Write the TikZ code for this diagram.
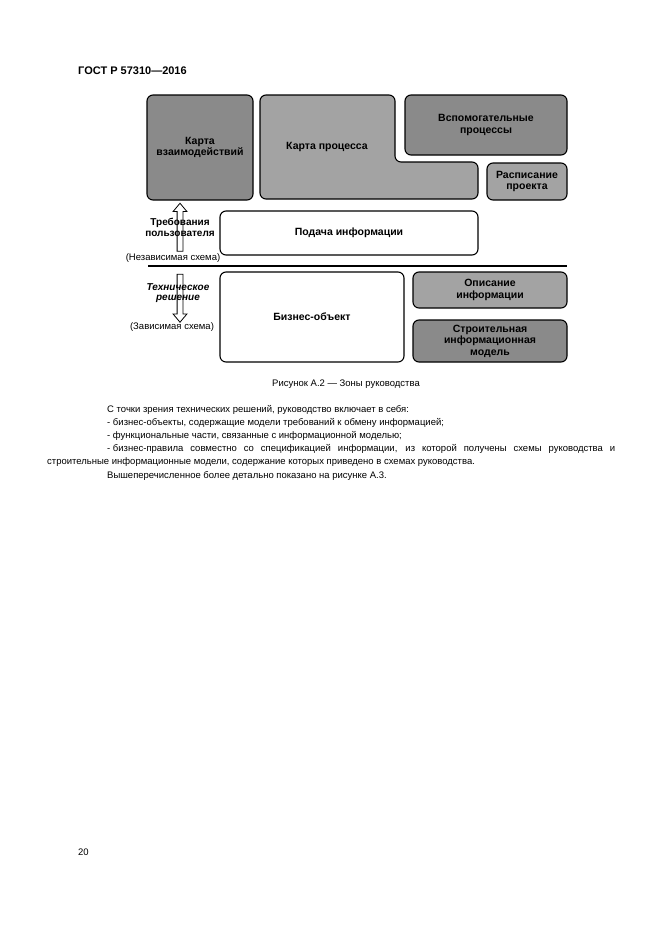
\documentclass[tikz,border=0pt]{standalone}
\usepackage{fontspec}
\setmainfont{Liberation Sans}
\usetikzlibrary{shapes.arrows,positioning}

\begin{document}
\begin{tikzpicture}[
    x=1pt, y=-1pt,
    font=\fontsize{10.5}{11.5}\selectfont\bfseries,
    zone/.style ={rectangle, draw=black, line width=1.1pt,
                  rounded corners=6pt, align=center, inner sep=2pt},
    dzone/.style={zone, fill=black!46},
    lzone/.style={zone, fill=black!36},
    wzone/.style={zone, fill=white},
    hollow/.style={single arrow, draw=black, line width=0.8pt, fill=white,
                  inner xsep=0pt, inner ysep=2.5pt, minimum height=48pt,
                  single arrow head extend=4pt, single arrow tip angle=80},
    side/.style ={align=center, inner sep=0pt,
                  font=\fontsize{10}{11}\selectfont\bfseries},
    scheme/.style={inner sep=0pt, font=\fontsize{9.5}{11}\selectfont},
    body/.style ={anchor=base west, inner sep=0pt,
                  font=\fontsize{9.5}{11}\selectfont}
]
\useasboundingbox[fill=white] (0,0) rectangle (661,935);

%–––– HEADER –––––––––––––––––––––––––––––––––––––––
\node (gost) [body, font=\fontsize{11}{12}\selectfont\bfseries] at (78,74) {ГОСТ Р 57310—2016};

%–––– UPPER ZONES ––––––––––––––––––––––––––––––––––
\node (vzaim) [dzone, minimum width=106pt, minimum height=105pt] at (200,147.5)
      {Карта\\взаимодействий};

\draw[line width=1.1pt, rounded corners=6pt, fill=black!36]
  (260,95) -- (395,95) -- (395,162) -- (478,162) -- (478,199) -- (260,199) -- cycle;
\node (proc) at (327,147) {Карта процесса};

\node (vspom) [dzone, minimum width=162pt, minimum height=60pt] at (486,125)
      {Вспомогательные\\процессы};
\node (rasp)  [lzone, minimum width=80pt, minimum height=37pt] at (527,181.5)
      {Расписание\\проекта};

\node (podacha) [wzone, minimum width=258pt, minimum height=44pt] at (349,233)
      {Подача информации};

%–––– SEPARATOR ––––––––––––––––––––––––––––––––––––
\draw[line width=1.1pt] (148,266) -- (567,266);

%–––– LOWER ZONES ––––––––––––––––––––––––––––––––––
\node (biz)  [wzone, minimum width=184pt, minimum height=90pt] at (312,317)
      {Бизнес-объект};
\node (opis) [lzone, minimum width=154pt, minimum height=36pt] at (490,290)
      {Описание\\информации};
\node (bim)  [dzone, minimum width=154pt, minimum height=42pt] at (490,341)
      {Строительная\\информационная\\модель};

%–––– SIDE LABELS ––––––––––––––––––––––––––––––––––
\node (up)   [hollow, rotate=90]  at (180,229) {};
\node (down) [hollow, rotate=-90] at (180,296.5) {};

\node (user)  [side] at (180,227.5) {Требования\\пользователя};
\node (indep) [scheme] at (173,258) {(Независимая схема)};
\node (tech)  [side, font=\fontsize{10}{10}\selectfont\bfseries\itshape] at (178,293)
      {Техническое\\решение};
\node (dep)   [scheme] at (172,327) {(Зависимая схема)};

%–––– CAPTION AND TEXT –––––––––––––––––––––––––––––
\node (caption) [scheme] at (346,384.5) {Рисунок А.2 — Зоны руководства};

\node (l1) [body] at (107,412)   {С точки зрения технических решений, руководство включает в себя:};
\node (l2) [body] at (107,425.2) {- бизнес-объекты, содержащие модели требований к обмену информацией;};
\node (l3) [body] at (107,438.4) {- функциональные части, связанные с информационной моделью;};
\node (l4) [body] at (107,451.6) {\makebox[508pt][s]{-\kern2.6pt бизнес-правила совместно со спецификацией информации, из которой получены схемы руководства и}};
\node (l5) [body] at (47,464.8)  {строительные информационные модели, содержание которых приведено в схемах руководства.};
\node (l6) [body] at (107,478)   {Вышеперечисленное более детально показано на рисунке А.3.};

\node (page) [body] at (78,855) {20};
\end{tikzpicture}
\end{document}
